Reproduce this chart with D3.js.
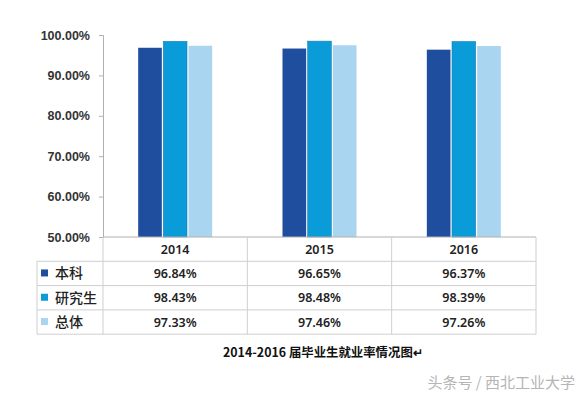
<!DOCTYPE html>
<html>
<head>
<meta charset="utf-8">
<script src="https://cdn.jsdelivr.net/npm/d3@7"></script>
<style>
  html, body { margin: 0; padding: 0; background: #fff; }
  svg { display: block; font-family: "Noto Sans", "Noto Sans CJK SC", sans-serif; }
</style>
</head>
<body>
<div id="chart"></div>
<script>
// data
const years = ['2014', '2015', '2016'];
const seriesNames = ['本科', '研究生', '总体'];
const benke = [96.84, 96.65, 96.37];
const yanjiusheng = [98.43, 98.48, 98.39];
const zongti = [97.33, 97.46, 97.26];
const yTicks = [50, 60, 70, 80, 90, 100];
const caption = '2014-2016 届毕业生就业率情况图';
const watermark = '头条号 / 西北工业大学';

const colors = ['#1f4e9e', '#0a9bd9', '#a9d5f1'];
const seriesValues = [benke, yanjiusheng, zongti];

const width = 584, height = 398;
const margin = { top: 35, left: 103, right: 48, plotBottom: 237 };
const rowH = 24.3;
const tableLeft = 37;

const svg = d3.select('#chart').append('svg')
  .attr('width', width)
  .attr('height', height);

const x = d3.scaleBand()
  .domain(years)
  .range([margin.left, width - margin.right]);

const xInner = d3.scaleBand()
  .domain(seriesNames)
  .range([0, 74])
  .paddingInner(0.06);

const y = d3.scaleLinear()
  .domain([50, 100])
  .range([margin.plotBottom, margin.top]);

// y axis
const yAxis = d3.axisLeft(y)
  .tickValues(yTicks)
  .tickSize(4)
  .tickFormat(d => d.toFixed(2) + '%');

const gy = svg.append('g')
  .attr('transform', `translate(${margin.left},0)`)
  .call(yAxis);
gy.select('.domain').attr('stroke', '#b0b0b0');
gy.selectAll('.tick line').attr('stroke', '#b0b0b0');
gy.selectAll('.tick text')
  .attr('x', -13)
  .attr('fill', '#333')
  .style('font-size', '12.5px')
  .style('font-weight', '600');

// bars
const groups = svg.append('g').selectAll('g')
  .data(years)
  .join('g')
  .attr('transform', d => `translate(${x(d) + (x.bandwidth() - 74) / 2},0)`);

groups.selectAll('rect')
  .data((yr, i) => seriesNames.map((s, j) => ({ s, j, v: seriesValues[j][i] })))
  .join('rect')
  .attr('x', d => xInner(d.s))
  .attr('y', d => y(d.v))
  .attr('width', xInner.bandwidth())
  .attr('height', d => y(50) - y(d.v))
  .attr('fill', d => colors[d.j])
  .attr('stroke', (d) => d.j === 1 ? '#1b7fb3' : 'none')
  .attr('stroke-width', 0.6);

// data table
const table = svg.append('g');
const tableTop = margin.plotBottom;
const gridColor = '#cfcfcf';

// horizontal lines
const hLines = [0, 1, 2, 3, 4].map(i => tableTop + i * rowH);
hLines.forEach((yy, i) => {
  table.append('line')
    .attr('x1', i === 0 ? margin.left : tableLeft)
    .attr('x2', width - margin.right)
    .attr('y1', yy).attr('y2', yy)
    .attr('stroke', i === 0 ? '#b0b0b0' : gridColor);
});
// vertical lines
const vx = years.map(d => x(d)).concat([x.range()[1]]);
vx.forEach(xx => {
  table.append('line')
    .attr('x1', xx).attr('x2', xx)
    .attr('y1', tableTop).attr('y2', tableTop + 4 * rowH)
    .attr('stroke', gridColor);
});
table.append('line')
  .attr('x1', tableLeft).attr('x2', tableLeft)
  .attr('y1', tableTop + rowH).attr('y2', tableTop + 4 * rowH)
  .attr('stroke', gridColor);

// header years
table.selectAll('.yr')
  .data(years)
  .join('text')
  .attr('x', d => x(d) + x.bandwidth() / 2)
  .attr('y', tableTop + rowH / 2)
  .attr('dy', '0.36em')
  .attr('text-anchor', 'middle')
  .attr('fill', '#222')
  .style('font-size', '12.5px')
  .style('font-weight', '600')
  .text(d => d);

// rows
seriesNames.forEach((s, j) => {
  const cy = tableTop + (j + 1) * rowH + rowH / 2;
  table.append('rect')
    .attr('x', 41).attr('y', cy - 4)
    .attr('width', 7).attr('height', 7)
    .attr('fill', colors[j]);
  table.append('text')
    .attr('x', 55).attr('y', cy)
    .attr('dy', '0.36em')
    .attr('fill', '#222')
    .style('font-family', '"Noto Sans CJK SC", sans-serif')
    .style('font-size', '14px')
    .style('font-weight', '500')
    .text(s);
  table.selectAll('.v' + j)
    .data(seriesValues[j])
    .join('text')
    .attr('x', (d, i) => x(years[i]) + x.bandwidth() / 2)
    .attr('y', cy)
    .attr('dy', '0.36em')
    .attr('text-anchor', 'middle')
    .attr('fill', '#222')
    .style('font-size', '12.5px')
    .style('font-weight', '600')
    .text(d => d.toFixed(2) + '%');
});

// caption
svg.append('text')
  .attr('x', 223).attr('y', 357)
  .attr('fill', '#111')
  .style('font-family', '"Noto Sans CJK SC", sans-serif')
  .style('font-size', '12.4px')
  .style('font-weight', '700')
  .text(caption + '↵');

// watermark
svg.append('text')
  .attr('x', 575).attr('y', 388)
  .attr('text-anchor', 'end')
  .attr('fill', '#b5b5b5')
  .style('font-family', '"Noto Sans CJK SC", sans-serif')
  .style('font-size', '15px')
  .text(watermark);
</script>
</body>
</html>
